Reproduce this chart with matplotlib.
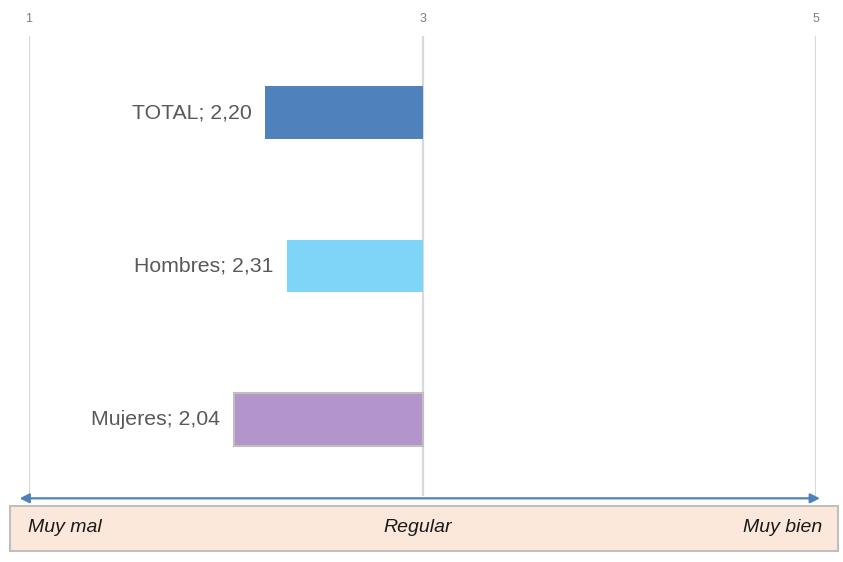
import matplotlib
matplotlib.use("Agg")
import matplotlib.pyplot as plt
import matplotlib.transforms as mtransforms
from matplotlib.patches import Rectangle

# Valoración media (escala 1-5)
groups = ["TOTAL", "Hombres", "Mujeres"]
values = [2.20, 2.31, 2.04]
colors = ["#4F81BD", "#7FD5F7", "#B394CB"]
edges = ["none", "none", "#BFBFBF"]
ticks = [1, 3, 5]
scale_labels = ["Muy mal", "Regular", "Muy bien"]
origin = 3

fig = plt.figure(figsize=(8.43, 5.62), dpi=100)
ax = fig.add_axes([0.0344, 0.1174, 0.9336, 0.8185])

ypos = list(range(len(groups)))
for y, g, v, c, e in zip(ypos, groups, values, colors, edges):
    ax.barh(y, v - origin, left=origin, height=0.345, color=c,
            edgecolor=e, linewidth=1.5 if e != "none" else 0, zorder=3)
    label = f"{g}; {v:.2f}".replace(".", ",")
    ax.annotate(label, (v, y), xytext=(-9.5, 0), textcoords="offset points",
                ha="right", va="center", fontsize=15.3, color="#595959",
                family=["Liberation Sans", "DejaVu Sans"])

ax.set_xlim(1, 5)
ax.set_ylim(2.5, -0.5)
ax.set_xticks(ticks)
ax.set_xticklabels([str(t) for t in ticks], fontsize=9, color="#7F7F7F",
                   family=["Liberation Sans", "DejaVu Sans"])
ax.xaxis.tick_top()
ax.tick_params(axis="x", length=0, pad=8)
ax.set_yticks([])
for s in ax.spines.values():
    s.set_visible(False)
ax.grid(axis="x", color="#D9D9D9", linewidth=1.6, zorder=0)

# scale box at the bottom
box = Rectangle((10 / 843, 1 - 551 / 562), 828 / 843, 45 / 562,
                transform=fig.transFigure, facecolor="#FCE8DA",
                edgecolor="#BFBFBF", linewidth=1.5)
fig.patches.append(box)

# double-headed arrow above the box
trans = mtransforms.blended_transform_factory(ax.transData, ax.transAxes)
ax.annotate("", xy=(0.952, -0.005), xytext=(5.02, -0.005),
            xycoords=trans, textcoords=trans,
            arrowprops=dict(arrowstyle="<|-|>", color="#4F81BD", lw=1.6,
                            mutation_scale=14, shrinkA=0, shrinkB=0),
            annotation_clip=False)

font_sc = ["Liberation Sans Narrow", "Liberation Sans", "DejaVu Sans"]
ty = 1 - 527 / 562
fig.text(28 / 843, ty, scale_labels[0], ha="left", va="center", style="italic",
         fontsize=14, color="#1A1A1A", family=font_sc)
fig.text(418 / 843, ty, scale_labels[1], ha="center", va="center", style="italic",
         fontsize=14, color="#1A1A1A", family=font_sc)
fig.text(822 / 843, ty, scale_labels[2], ha="right", va="center", style="italic",
         fontsize=14, color="#1A1A1A", family=font_sc)

fig.savefig("out.png", dpi=100)
